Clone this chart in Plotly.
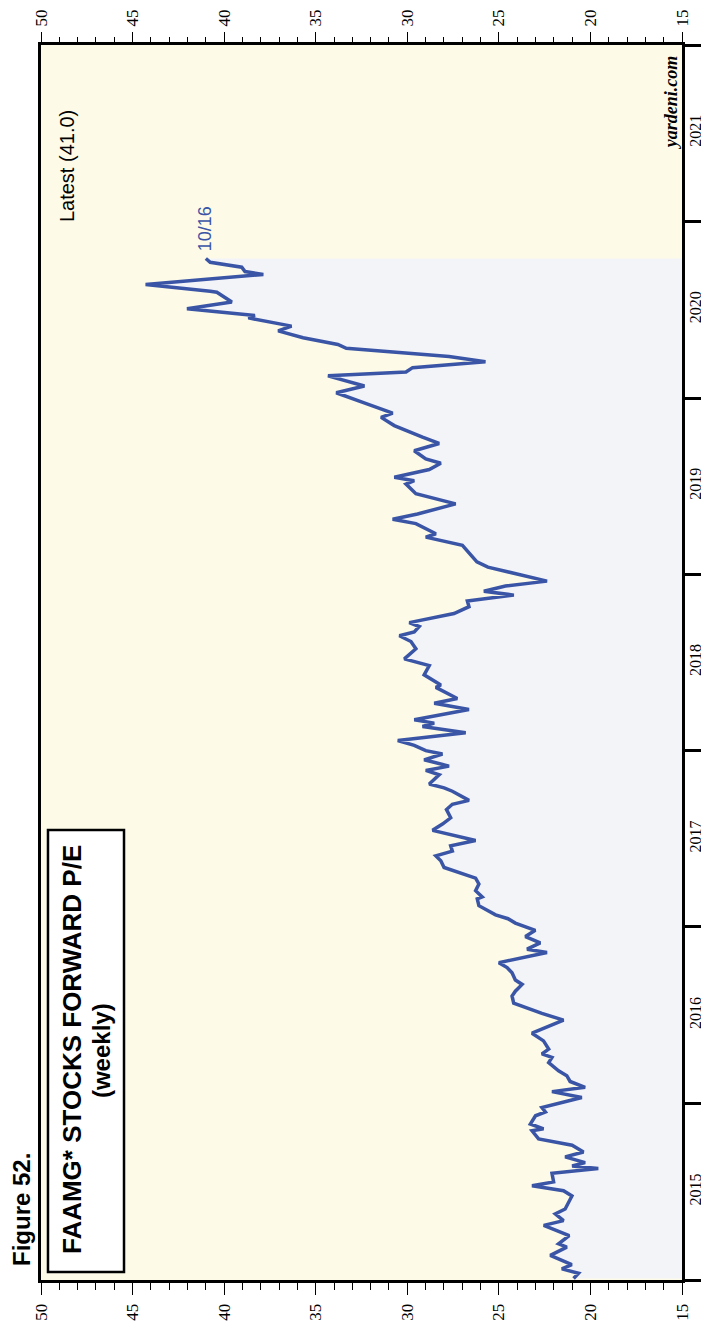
import plotly.graph_objects as go

# ---- data (weekly FAAMG forward P/E) ----
dates = [
    "2015-01-04", "2015-01-15", "2015-01-24", "2015-02-02", "2015-02-21", "2015-03-10",
    "2015-03-17", "2015-04-03", "2015-04-24", "2015-05-04", "2015-05-18", "2015-05-28",
    "2015-06-24", "2015-07-05", "2015-07-15", "2015-07-23", "2015-08-10", "2015-08-20",
    "2015-08-25", "2015-09-01", "2015-09-13", "2015-09-23", "2015-10-07", "2015-10-20",
    "2015-11-06", "2015-11-10", "2015-11-20", "2015-12-07", "2015-12-15", "2015-12-24",
    "2016-01-14", "2016-01-26", "2016-02-04", "2016-02-16", "2016-02-28", "2016-03-09",
    "2016-03-26", "2016-04-06", "2016-04-13", "2016-04-23", "2016-05-10", "2016-05-26",
    "2016-06-22", "2016-07-06", "2016-07-27", "2016-08-11", "2016-08-21", "2016-09-04",
    "2016-09-13", "2016-09-28", "2016-10-09", "2016-10-19", "2016-11-09", "2016-11-16",
    "2016-11-29", "2016-12-12", "2016-12-25",
    "2017-01-09", "2017-01-18", "2017-01-26", "2017-02-14", "2017-02-28", "2017-03-04",
    "2017-03-17", "2017-03-31", "2017-04-12", "2017-05-04", "2017-05-18", "2017-05-28",
    "2017-06-07", "2017-06-18", "2017-06-29", "2017-07-20", "2017-08-02", "2017-08-15",
    "2017-09-01", "2017-09-12", "2017-09-20", "2017-10-09", "2017-10-16", "2017-10-24",
    "2017-11-12", "2017-11-21", "2017-11-30", "2017-12-13", "2017-12-25",
    "2018-01-01", "2018-01-12", "2018-01-22", "2018-02-07", "2018-02-20", "2018-02-27",
    "2018-03-06", "2018-03-27", "2018-04-09", "2018-04-19", "2018-05-12", "2018-05-17",
    "2018-06-07", "2018-06-26", "2018-07-10", "2018-07-31", "2018-08-15", "2018-08-27",
    "2018-09-04", "2018-09-15", "2018-09-23", "2018-10-12", "2018-10-26", "2018-11-07",
    "2018-11-19", "2018-11-27", "2018-12-08", "2018-12-18",
    "2019-01-16", "2019-01-27", "2019-03-02", "2019-03-19", "2019-03-26", "2019-04-16",
    "2019-04-25", "2019-05-06", "2019-05-27", "2019-06-17", "2019-07-07", "2019-07-14",
    "2019-07-21", "2019-08-06", "2019-08-19", "2019-08-28", "2019-09-14", "2019-09-29",
    "2019-10-12", "2019-11-05", "2019-11-22", "2019-12-01", "2019-12-23",
    "2020-01-12", "2020-01-26", "2020-02-16", "2020-02-24", "2020-03-04", "2020-03-16",
    "2020-03-27", "2020-04-13", "2020-04-21", "2020-05-05", "2020-05-10", "2020-05-19",
    "2020-05-29", "2020-06-15", "2020-06-20", "2020-07-04", "2020-07-18", "2020-08-07",
    "2020-08-09", "2020-08-23", "2020-09-13", "2020-09-19", "2020-09-28", "2020-10-08",
    "2020-10-16",
]
pe = [
    20.92, 20.65, 21.56, 21.02, 22.19, 21.29,
    21.74, 21.16, 22.55, 21.47, 21.92, 21.38,
    21.01, 21.47, 23.19, 22.01, 22.10, 19.57,
    21.00, 20.29, 21.38, 20.38, 21.00, 22.83,
    23.19, 22.56, 23.28, 23.00, 22.46, 22.65,
    20.47, 22.10, 20.29, 21.11, 21.29, 21.74,
    22.28, 22.10, 22.65, 22.28, 22.56, 23.19,
    21.47, 22.65, 24.19, 24.28, 24.10, 23.73,
    24.10, 24.28, 24.55, 25.00, 22.37, 23.46,
    22.74, 23.55, 23.01,
    24.10, 24.50, 25.18, 26.09, 26.18, 25.91,
    26.27, 26.09, 26.27, 27.99, 28.17, 28.44,
    27.54, 27.63, 26.27, 28.62, 28.08, 27.63,
    27.86, 27.54, 26.63, 27.54, 27.99, 28.80,
    28.26, 28.99, 27.72, 29.08, 28.08,
    28.99, 29.62, 30.52, 26.81, 29.17, 28.53,
    29.62, 26.63, 28.53, 27.27, 28.44, 28.17,
    29.08, 28.80, 30.16, 29.53, 29.80, 30.43,
    29.62, 29.35, 29.89, 27.45, 26.63, 26.72,
    24.18, 25.82, 24.64, 22.37,
    25.60, 26.20, 26.99, 28.99, 28.44, 29.53,
    30.80, 29.44, 27.36, 29.53, 30.07, 29.62,
    30.71, 28.80, 28.17, 28.99, 29.62, 28.26,
    29.17, 30.71, 31.43, 30.80, 32.43,
    33.88, 32.34, 34.33, 30.07, 29.71, 25.73,
    27.72, 33.33, 33.79, 35.69, 36.23, 37.05,
    36.32, 38.68, 38.32, 42.03, 39.58, 40.40,
    40.76, 44.29, 37.86, 38.86, 39.04, 40.76,
    41.00,
]

value_range = [50, 15]
date_range = ["2015-01-01", "2022-01-01"]
title_text = "FAAMG* STOCKS FORWARD P/E"
subtitle_text = "(weekly)"
figure_label = "Figure 52."
last_label = "10/16"

BLUE = "#3A55A6"
GRAY = "#F3F4F7"
CREAM = "#FDFBE8"
SERIF = "Liberation Serif"
SANS = "Liberation Sans"

fig = go.Figure()
fig.add_trace(go.Scatter(
    x=pe, y=dates, mode="lines",
    line=dict(color=BLUE, width=3.5),
    fill="tozerox", fillcolor=GRAY,
    hoverinfo="skip", showlegend=False,
))
# invisible helper trace for the mirrored (top / label) axes
fig.add_trace(go.Scatter(
    x=pe, y=dates, xaxis="x2", yaxis="y2", mode="lines",
    line=dict(width=0, color="rgba(0,0,0,0)"), opacity=0,
    hoverinfo="skip", showlegend=False,
))

xcommon = dict(
    range=value_range, tickmode="linear", tick0=0, dtick=5,
    ticks="outside", ticklen=12, tickwidth=1, tickcolor="black",
    minor=dict(ticks="outside", dtick=1, ticklen=7, tickwidth=1, tickcolor="black"),
    tickangle=-90, tickfont=dict(family=SERIF, size=17, color="black"),
    showgrid=False, zeroline=False, ticklabelstandoff=2, automargin=False,
)

fig.update_layout(
    width=701, height=1320,
    margin=dict(l=33, r=27, t=37, b=48),
    paper_bgcolor="white", plot_bgcolor=CREAM,
    showlegend=False,
    xaxis=dict(**xcommon, side="bottom", showline=True, linewidth=3,
               linecolor="black", mirror=True),
    xaxis2=dict(**xcommon, side="top", overlaying="x", showline=False),
    yaxis=dict(type="date", range=date_range, side="right", automargin=False,
               showline=True, linewidth=3, linecolor="black", mirror=True,
               ticks="outside", ticklen=17, tickwidth=3, tickcolor="black",
               tickmode="linear", tick0="2015-01-01", dtick="M12",
               showticklabels=False, showgrid=False, zeroline=False),
    yaxis2=dict(type="date", range=date_range, side="right", overlaying="y",
                automargin=False,
                tickmode="linear", tick0="2015-01-01", dtick="M12",
                ticklabelmode="period", tickformat="%Y", ticks="",
                tickangle=-90, ticklabelstandoff=2,
                tickfont=dict(family=SERIF, size=16, color="black"),
                showgrid=False, zeroline=False, showline=False),
)

# title box
fig.add_shape(type="rect", xref="paper", yref="paper",
              x0=0.0109, x1=0.1295, y0=0.0065, y1=0.3644,
              line=dict(color="black", width=2.5), fillcolor="white", layer="above")

fig.add_annotation(text=f"<b>{title_text}</b>", xref="paper", yref="paper",
                   x=0.0484, y=0.1862, textangle=-90, showarrow=False,
                   xanchor="center", yanchor="middle",
                   font=dict(family=SANS, size=26, color="black"))
fig.add_annotation(text=f"<b>{subtitle_text}</b>", xref="paper", yref="paper",
                   x=0.0936, y=0.1862, textangle=-90, showarrow=False,
                   xanchor="center", yanchor="middle",
                   font=dict(family=SANS, size=24, color="black"))
fig.add_annotation(text=f"<b>{figure_label}</b>", xref="paper", yref="paper",
                   x=-0.0296, y=0.0567, textangle=-90, showarrow=False,
                   xanchor="center", yanchor="middle",
                   font=dict(family=SANS, size=24, color="black"))
fig.add_annotation(text=f"Latest ({pe[-1]:.1f})", xref="paper", yref="paper",
                   x=0.0406, y=0.902, textangle=-90, showarrow=False,
                   xanchor="center", yanchor="middle",
                   font=dict(family=SANS, size=20, color="black"))
fig.add_annotation(text="<b><i>yardeni.com</i></b>", xref="paper", yref="paper",
                   x=0.983, y=0.9538, textangle=-90, showarrow=False,
                   xanchor="center", yanchor="middle",
                   font=dict(family=SERIF, size=18, color="black"))
fig.add_annotation(text=last_label, xref="x", yref="y",
                   x=pe[-1], y=dates[-1], yshift=30, textangle=-90, showarrow=False,
                   xanchor="center", yanchor="middle",
                   font=dict(family=SANS, size=18, color=BLUE))

fig.write_html("out.html")
